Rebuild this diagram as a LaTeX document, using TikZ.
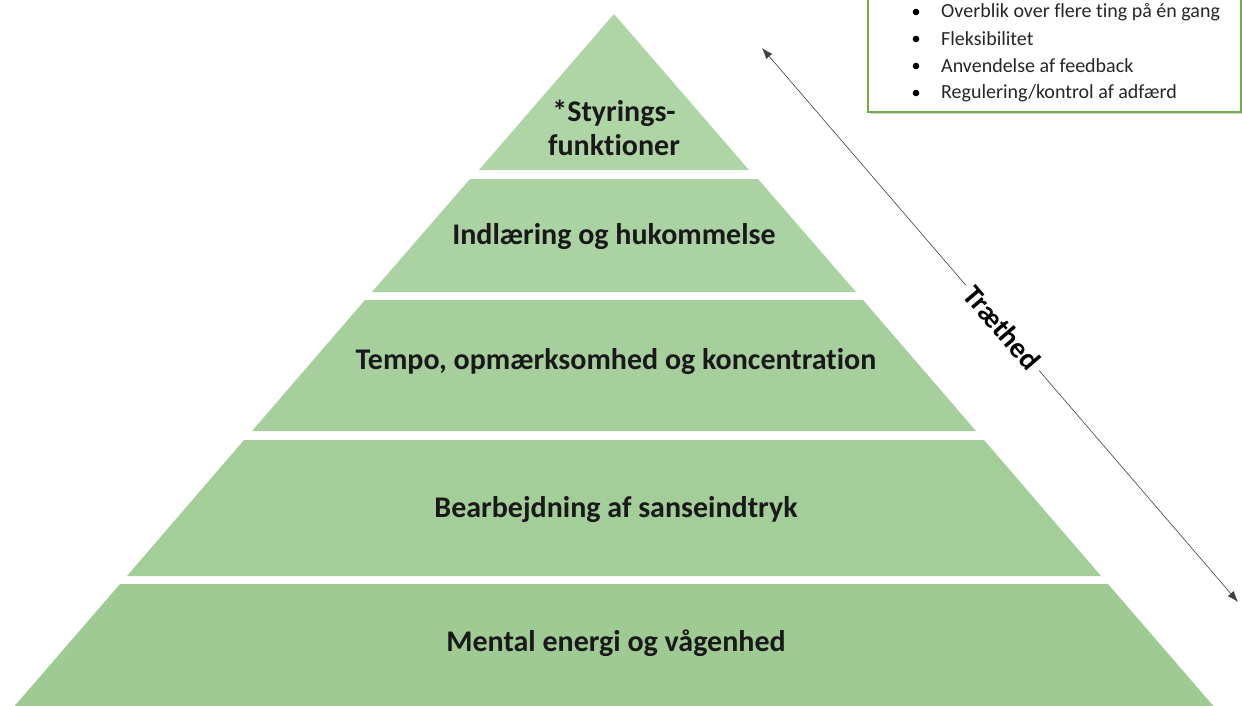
\documentclass[tikz,border=0pt]{standalone}
\usepackage{fontspec}
\setmainfont{Carlito}[Ligatures=NoCommon]
\usepackage{tikz}
\usetikzlibrary{shadows,arrows.meta,calc}
\definecolor{lvlA}{HTML}{AFD4A6}
\definecolor{lvlB}{HTML}{ABD2A2}
\definecolor{lvlC}{HTML}{A7CF9E}
\definecolor{lvlD}{HTML}{A3CD99}
\definecolor{lvlE}{HTML}{9FCA94}
\definecolor{boxline}{HTML}{70AD47}

\begin{document}
\begin{tikzpicture}[x=1pt,y=-1pt,
  caption/.style={font=\fontsize{30}{34}\selectfont\bfseries,align=center,text=black!90},
  bullet/.style={font=\fontsize{20}{22}\selectfont,anchor=west,inner sep=0pt,text=black!85},
  infobox/.style={draw=boxline,line width=1.4pt,fill=white,
    drop shadow={opacity=0.35,shadow xshift=2pt,shadow yshift=-2pt}},
  arr/.style={{Latex[length=11pt,width=8pt]}-{Latex[length=11pt,width=8pt]},line width=0.6pt,black!75}]
    \useasboundingbox (0,0) rectangle (1242,706);
    % Pyramid layers
    \fill[lvlA] (614,14) -- (749,170) -- (479,170) -- cycle;
    \fill[lvlB] (470,179) -- (758,179) -- (856,292) -- (372,292) -- cycle;
    \fill[lvlC] (365,300) -- (863,300) -- (976,431) -- (252,431) -- cycle;
    \fill[lvlD] (244,440) -- (984,440) -- (1101,576) -- (127,576) -- cycle;
    \fill[lvlE] (120,584) -- (1108,584) -- (1216,709) -- (12,709) -- cycle;
    % Labels
    \node[caption] (styring) at (614,128) {*Styrings-\\funktioner};
    \node[caption] (indl) at (614,237) {Indlæring og hukommelse};
    \node[caption] (tempo) at (616,362) {Tempo, opmærksomhed og koncentration};
    \node[caption] (bearb) at (616,510) {Bearbejdning af sanseindtryk};
    \node[caption] (mental) at (616,643) {Mental energi og vågenhed};
    % Info box
    \draw[infobox] (868,-20) rectangle (1241,112);
    \foreach \txt [count=\i] in {Overblik over flere ting på én gang,Fleksibilitet,
        Anvendelse af feedback,Regulering/kontrol af adfærd}{
      \node[bullet] (b\i) at (941,{-15+27*\i}) {\txt};
      \fill[black] (916,{-15+27*\i}) circle (3.3pt);
    }
    % Fatigue arrow
    \coordinate (top) at (762,48);
    \coordinate (bot) at (1238,602);
    \draw[arr] (top) -- (bot);
    \node[font=\fontsize{29}{31}\selectfont\bfseries,fill=white,rotate=-49.3,inner sep=6pt]
      (traet) at ($(top)!0.505!(bot)$) {Træthed};
\end{tikzpicture}
\end{document}
